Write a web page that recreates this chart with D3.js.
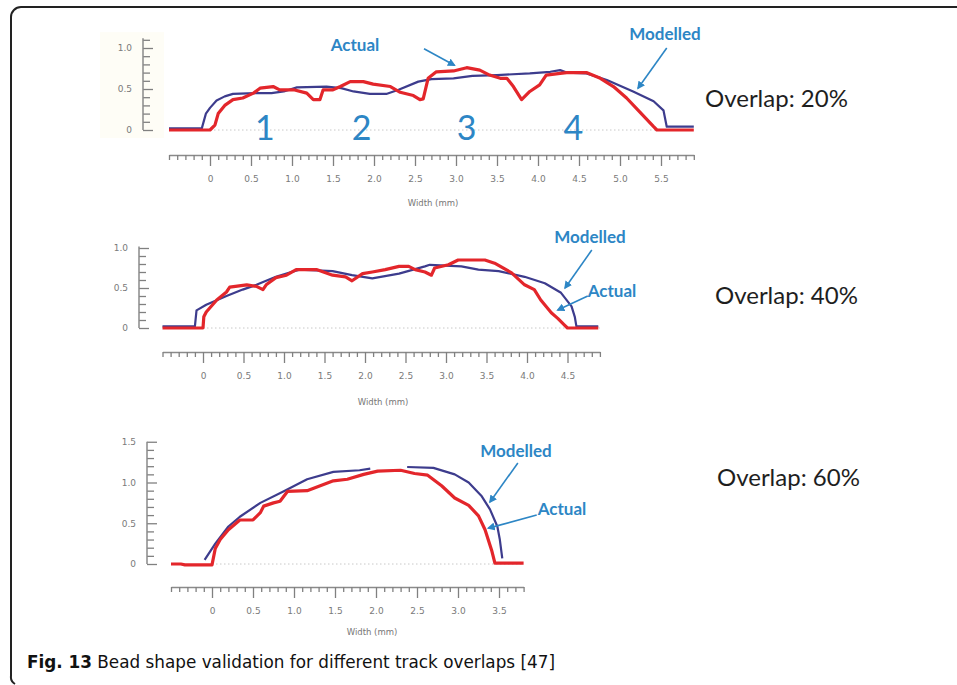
<!DOCTYPE html>
<html>
<head>
<meta charset="utf-8">
<script src="https://cdn.jsdelivr.net/npm/d3@7"></script>
<style>
  body { margin: 0; background: #fff; }
  svg { display: block; }
  .tick text { fill: #7a7a7a; font-family: "DejaVu Sans", sans-serif; font-size: 9px; }
  .tick line { stroke: #808080; stroke-width: 1.3; }
  .domain { stroke: #8a8a8a; stroke-width: 1.5; }
</style>
</head>
<body>
<div id="chart"></div>
<script>
// Bead profiles: [width (mm), height (mm)]
const model20 = [[-0.5,0.02],[-0.1,0.02],[-0.05,0.2],[0.0,0.27],[0.08,0.36],[0.18,0.41],[0.28,0.44],[0.55,0.45],
  [0.75,0.45],[0.9,0.47],[1.06,0.52],[1.42,0.53],[1.6,0.51],[1.75,0.47],[1.95,0.44],[2.15,0.44],[2.3,0.49],
  [2.54,0.59],[2.7,0.62],[2.97,0.63],[3.2,0.66],[3.5,0.67],[3.9,0.69],[4.15,0.71],[4.27,0.73],[4.35,0.70],
  [4.59,0.69],[4.84,0.61],[5.16,0.47],[5.41,0.35],[5.53,0.24],[5.57,0.04],[5.9,0.04]];
const actual20 = [[-0.5,0],[0.0,0],[0.06,0.06],[0.1,0.2],[0.18,0.3],[0.28,0.37],[0.4,0.39],[0.53,0.45],[0.61,0.51],
  [0.77,0.53],[0.85,0.49],[1.02,0.49],[1.18,0.45],[1.26,0.37],[1.34,0.37],[1.38,0.49],[1.5,0.49],[1.59,0.53],
  [1.71,0.59],[1.87,0.59],[1.99,0.56],[2.2,0.53],[2.32,0.46],[2.48,0.42],[2.56,0.37],[2.6,0.38],[2.66,0.63],
  [2.76,0.71],[2.97,0.72],[3.13,0.76],[3.29,0.73],[3.41,0.67],[3.54,0.63],[3.62,0.63],[3.7,0.53],[3.8,0.37],
  [3.9,0.47],[4.02,0.55],[4.1,0.67],[4.27,0.69],[4.35,0.70],[4.59,0.70],[4.76,0.63],[4.92,0.53],[5.08,0.39],
  [5.24,0.22],[5.41,0.04],[5.45,0],[5.9,0]];

const model40 = [[-0.5,0.02],[-0.1,0.02],[-0.08,0.22],[0.04,0.29],[0.29,0.4],[0.49,0.48],[0.66,0.54],[0.9,0.64],
  [1.19,0.73],[1.6,0.71],[1.84,0.66],[2.09,0.62],[2.42,0.68],[2.74,0.77],[2.8,0.79],[3.19,0.77],[3.4,0.73],
  [3.65,0.71],[3.97,0.64],[4.22,0.56],[4.42,0.44],[4.55,0.27],[4.59,0.14],[4.61,0.02],[4.88,0.02]];
const actual40 = [[-0.5,0],[0.0,0],[0.01,0.14],[0.04,0.2],[0.17,0.35],[0.29,0.45],[0.33,0.51],[0.54,0.54],
  [0.66,0.52],[0.74,0.48],[0.78,0.54],[0.9,0.63],[1.03,0.66],[1.15,0.73],[1.4,0.73],[1.6,0.66],[1.76,0.64],
  [1.84,0.59],[1.97,0.68],[2.09,0.7],[2.25,0.73],[2.42,0.77],[2.54,0.77],[2.62,0.73],[2.74,0.7],[2.82,0.66],
  [2.86,0.75],[3.03,0.79],[3.15,0.85],[3.48,0.85],[3.6,0.81],[3.81,0.69],[3.97,0.54],[4.09,0.48],[4.17,0.35],
  [4.3,0.19],[4.38,0.12],[4.46,0.04],[4.5,0],[4.88,0]];

// null = gap in the modelled trace
const model60 = [[-0.09,0.05],[0.04,0.25],[0.2,0.46],[0.34,0.58],[0.59,0.75],[0.87,0.89],[1.16,1.04],[1.48,1.13],
  [1.8,1.15],[1.93,1.17],[2.15,null],[2.38,1.19],[2.7,1.18],[2.96,1.1],[3.13,1.0],[3.29,0.83],[3.39,0.67],
  [3.48,0.46],[3.51,0.3],[3.54,0.07]];
const actual60 = [[-0.5,0],[-0.38,0],[-0.33,-0.01],[0.0,-0.01],[0.04,0.19],[0.1,0.3],[0.2,0.42],[0.34,0.54],
  [0.5,0.54],[0.59,0.63],[0.63,0.71],[0.75,0.75],[0.83,0.77],[0.92,0.89],[1.16,0.9],[1.32,0.96],[1.48,1.02],
  [1.65,1.04],[1.85,1.1],[2.02,1.14],[2.3,1.15],[2.47,1.11],[2.63,1.09],[2.8,0.96],[2.96,0.81],[3.13,0.72],
  [3.25,0.59],[3.33,0.42],[3.41,0.17],[3.45,0.01],[3.8,0.01]];

const overlapLabels = ["Overlap: 20%", "Overlap: 40%", "Overlap: 60%"];
const trackNumbers = ["1", "2", "3", "4"];
const trackNumberX = [0.67, 1.85, 3.13, 4.43];
const xTitle = "Width (mm)";
const caption = ["Fig. 13", " Bead shape validation for different track overlaps [47]"];

const W = 957, H = 685;
const RED = "#e3262b", NAVY = "#3d3c8d", BLUE = "#2d86c5";

const svg = d3.select("#chart").append("svg").attr("width", W).attr("height", H);

svg.append("defs").append("marker")
  .attr("id", "arrow")
  .attr("viewBox", "0 0 10 10")
  .attr("refX", 8).attr("refY", 5)
  .attr("markerWidth", 5).attr("markerHeight", 5)
  .attr("orient", "auto")
  .append("path").attr("d", "M0,0 L10,5 L0,10 Z").attr("fill", BLUE);

// Frame of the figure box
svg.append("path")
  .attr("d", `M${W},7 H21 A10,10 0 0 0 11,17 V676 A8,8 0 0 0 15,684`)
  .attr("fill", "none").attr("stroke", "#222").attr("stroke-width", 2);

// Panel layout
const panels = [
  { model: model20, actual: actual20, xMax: 5.9, x0: 210, unit: 82, yBase: 130, yUnit: 82, yTop: 1.12,
    yTicks: [0, 0.5, 1.0], yAxisX: 143, xAxisY: 155, titleX: 433, titleY: 206,
    overlap: { x: 705, y: 107 }, cream: true,
    notes: [
      { text: "Actual", tx: 355, ty: 51, from: [2.61, 0.99], to: [2.98, 0.79] },
      { text: "Modelled", tx: 665, ty: 40, from: [5.57, 1.0], to: [5.22, 0.51] }
    ] },
  { model: model40, actual: actual40, xMax: 4.9, x0: 203, unit: 81, yBase: 328, yUnit: 80, yTop: 1.02,
    yTicks: [0, 0.5, 1.0], yAxisX: 139, xAxisY: 352, titleX: 383, titleY: 405,
    overlap: { x: 715, y: 304 },
    notes: [
      { text: "Modelled", tx: 590, ty: 243, from: [4.80, 0.975], to: [4.47, 0.5] },
      { text: "Actual", tx: 612, ty: 297, from: [4.75, 0.4], to: [4.38, 0.225] }
    ] },
  { model: model60, actual: actual60, xMax: 3.8, x0: 212, unit: 82, yBase: 564, yUnit: 81.5, yTop: 1.5,
    yTicks: [0, 0.5, 1.0, 1.5], yAxisX: 147, xAxisY: 587, titleX: 372, titleY: 635,
    overlap: { x: 717, y: 486 },
    notes: [
      { text: "Modelled", tx: 516, ty: 457, from: [3.73, 1.24], to: [3.39, 0.76] },
      { text: "Actual", tx: 562, ty: 515, from: [3.96, 0.6], to: [3.37, 0.44] }
    ] }
];

const fmt = d => d === 0 ? "0" : d3.format(".1f")(d);

panels.forEach((p, i) => {
  const xMin = -0.5;
  const x = d3.scaleLinear().domain([xMin, p.xMax]).range([p.x0 + xMin * p.unit, p.x0 + p.xMax * p.unit]);
  const y = d3.scaleLinear().domain([0, 1]).range([p.yBase, p.yBase - p.yUnit]);
  const g = svg.append("g");

  if (p.cream) {
    g.append("rect").attr("x", 100).attr("y", y(p.yTop) - 6)
      .attr("width", 64).attr("height", y(0) - y(p.yTop) + 14)
      .attr("fill", "#fefdf6");
  }

  // Y axis: ticks point right, labels on the left
  const minorY = d3.range(0, p.yTop + 1e-6, 0.1).filter(v => !p.yTicks.some(t => Math.abs(t - v) < 1e-6));
  g.append("g").attr("transform", `translate(${p.yAxisX},0)`)
    .call(d3.axisLeft(y).tickValues(minorY).tickSize(-7).tickFormat(""))
    .call(s => s.select(".domain").remove());
  g.append("g").attr("transform", `translate(${p.yAxisX},0)`)
    .call(d3.axisLeft(y).tickValues(p.yTicks).tickSize(-10).tickPadding(11).tickFormat(fmt))
    .call(s => s.select(".domain").remove());
  g.append("line")
    .attr("x1", p.yAxisX).attr("x2", p.yAxisX)
    .attr("y1", y(0)).attr("y2", y(p.yTop))
    .attr("stroke", "#8a8a8a").attr("stroke-width", 1.5);

  // X axis: detached ruler below the plot
  const majorX = d3.range(0, p.xMax - 0.2, 0.5);
  const minorX = d3.range(xMin, p.xMax + 1e-6, 0.1).filter(v => !majorX.some(t => Math.abs(t - v) < 1e-6));
  g.append("g").attr("transform", `translate(0,${p.xAxisY})`)
    .call(d3.axisBottom(x).tickValues(minorX).tickSize(5).tickSizeOuter(0).tickFormat(""));
  g.append("g").attr("transform", `translate(0,${p.xAxisY})`)
    .call(d3.axisBottom(x).tickValues(majorX).tickSize(11).tickPadding(10).tickFormat(fmt))
    .call(s => s.select(".domain").remove());

  g.append("text")
    .attr("x", p.titleX).attr("y", p.titleY)
    .attr("text-anchor", "middle")
    .attr("font-family", "DejaVu Sans, sans-serif").attr("font-size", 8.5)
    .attr("fill", "#777")
    .text(xTitle);

  // dotted zero line
  g.append("line")
    .attr("x1", x(0)).attr("x2", x(p.xMax))
    .attr("y1", y(0)).attr("y2", y(0))
    .attr("stroke", "#c8c8c8").attr("stroke-width", 1).attr("stroke-dasharray", "1.5,2.5");

  const line = d3.line().defined(d => d[1] != null).x(d => x(d[0])).y(d => y(d[1]));

  g.append("path").datum(p.model)
    .attr("d", line).attr("fill", "none")
    .attr("stroke", NAVY).attr("stroke-width", 2.2).attr("stroke-linejoin", "round");
  g.append("path").datum(p.actual)
    .attr("d", line).attr("fill", "none")
    .attr("stroke", RED).attr("stroke-width", 3.2).attr("stroke-linejoin", "round");

  // annotations with arrows
  p.notes.forEach(n => {
    g.append("line")
      .attr("x1", x(n.from[0])).attr("y1", y(n.from[1]))
      .attr("x2", x(n.to[0])).attr("y2", y(n.to[1]))
      .attr("stroke", BLUE).attr("stroke-width", 1.6)
      .attr("marker-end", "url(#arrow)");
    g.append("text")
      .attr("x", n.tx).attr("y", n.ty)
      .attr("text-anchor", "middle")
      .attr("font-family", "Lato, sans-serif").attr("font-weight", "bold").attr("font-size", 17)
      .attr("fill", BLUE)
      .text(n.text);
  });

  if (i === 0) {
    g.selectAll(".track").data(trackNumbers).join("text")
      .attr("x", (d, k) => x(trackNumberX[k]))
      .attr("y", y(-0.12))
      .attr("text-anchor", "middle")
      .attr("font-family", "Lato, sans-serif").attr("font-size", 34)
      .attr("fill", BLUE)
      .text(d => d);
  }

  g.append("text")
    .attr("x", p.overlap.x).attr("y", p.overlap.y)
    .attr("font-family", "Lato, sans-serif").attr("font-size", 24)
    .attr("fill", "#1e1e1e")
    .text(overlapLabels[i]);
});

// Caption
const cap = svg.append("text")
  .attr("x", 27).attr("y", 668)
  .attr("font-family", "'Liberation Sans Narrow', 'DejaVu Sans Condensed', sans-serif")
  .attr("font-size", 18).attr("fill", "#111")
  .attr("textLength", 528).attr("lengthAdjust", "spacingAndGlyphs");
cap.append("tspan").attr("font-weight", "bold").text(caption[0]);
cap.append("tspan").text(caption[1]);
</script>
</body>
</html>
